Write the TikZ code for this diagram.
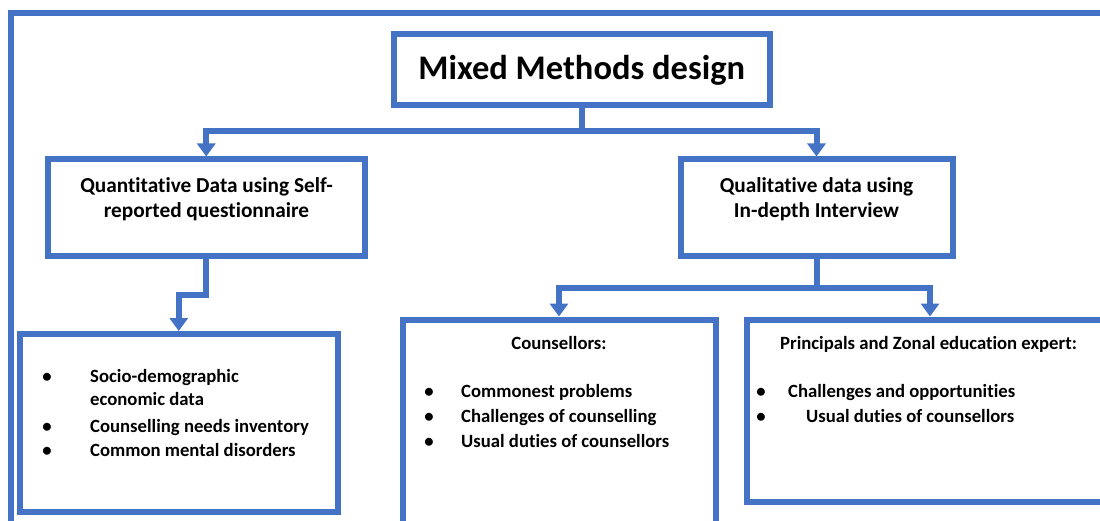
\documentclass[tikz,border=0pt]{standalone}
\usepackage{fontspec}
\setmainfont{Carlito}[Ligatures=NoCommon]
\usetikzlibrary{arrows.meta}
\definecolor{frameblue}{HTML}{4472C4}
\begin{document}
\begin{tikzpicture}[x=1pt,y=-1pt,
  boxline/.style={draw=frameblue, line width=6pt, rectangle, inner sep=0pt},
  link/.style={draw=frameblue, line width=6pt, line join=miter,
    -{Triangle[width=18pt,length=13pt]}},
  bigtxt/.style={inner sep=0pt, anchor=base, font=\bfseries\fontsize{34.5}{40}\selectfont},
  headtxt/.style={inner sep=0pt, anchor=base, font=\bfseries\fontsize{21.3}{25}\selectfont},
  itemtxt/.style={inner sep=0pt, anchor=base west, font=\bfseries\fontsize{18.7}{22}\selectfont},
  dot/.style={inner sep=0pt, anchor=base, font=\bfseries\fontsize{18.7}{22}\selectfont},
]
\useasboundingbox (0,0) rectangle (1100,521);
\fill[white] (0,0) rectangle (1100,521);

% outer frame, running past the page edges
\draw[frameblue, line width=6pt] (1200,13) -- (11,13) -- (11,700);

% boxes
\node[boxline, minimum width=376.5pt, minimum height=71pt]  (title) at (581.75,69.5) {};
\node[boxline, minimum width=317.5pt, minimum height=97pt]  (quant) at (206.25,208) {};
\node[boxline, minimum width=272pt,   minimum height=97pt]  (qual)  at (816.5,208) {};
\node[boxline, minimum width=317.5pt, minimum height=177.5pt] (qbul) at (178.75,422.75) {};
\node[boxline, minimum width=313pt,   minimum height=280.5pt] (couns) at (559,459.75) {};
\node[boxline, minimum width=366pt,   minimum height=182pt] (princ) at (930,410.5) {};

% bus levels of the connectors
\coordinate (bus1) at (0,131);
\coordinate (bus2) at (0,295);
\coordinate (bus3) at (0,288.5);

% connectors
\draw[link] (title.south) -- (title.south |- bus1) -| (quant.north);
\draw[link] (title.south) -- (title.south |- bus1) -| (qual.north);
\draw[link] (quant.south) -- (quant.south |- bus2) -| (qbul.north);
\draw[link] (qual.south) -- (qual.south |- bus3) -| (couns.north);
\draw[link] (qual.south) -- (qual.south |- bus3) -| (princ.north);

% texts
\node[bigtxt] (titletext) at (581.75,80) {Mixed Methods design};

\node[headtxt] (quant1) at (206.5,193) {Quantitative Data using Self-};
\node[headtxt] (quant2) at (206.5,218) {reported questionnaire};

\node[headtxt] (qual1) at (816.5,193) {Qualitative data using};
\node[headtxt] (qual2) at (816.5,218) {In-depth Interview};

\node[dot] (b11) at (47,382) {•};
\node[itemtxt] (t11) at (90,382) {Socio-demographic};
\node[itemtxt] (t11b) at (90,405) {economic data};
\node[dot] (b12) at (47,432) {•};
\node[itemtxt] (t12) at (90,432) {Counselling needs inventory};
\node[dot] (b13) at (47,456) {•};
\node[itemtxt] (t13) at (90,456) {Common mental disorders};

\node[dot] (counshead) at (559,349) {Counsellors:};
\node[dot] (b21) at (429,397) {•};
\node[itemtxt] (t21) at (461,397) {Commonest problems};
\node[dot] (b22) at (429,422) {•};
\node[itemtxt] (t22) at (461,422) {Challenges of counselling};
\node[dot] (b23) at (429,447) {•};
\node[itemtxt] (t23) at (461,447) {Usual duties of counsellors};

\node[dot] (princhead) at (928.5,349) {Principals and Zonal education expert:};
\node[dot] (b31) at (761,397) {•};
\node[itemtxt] (t31) at (788,397) {Challenges and opportunities};
\node[dot] (b32) at (761,422) {•};
\node[itemtxt] (t32) at (806,422) {Usual duties of counsellors};
\end{tikzpicture}
\end{document}
